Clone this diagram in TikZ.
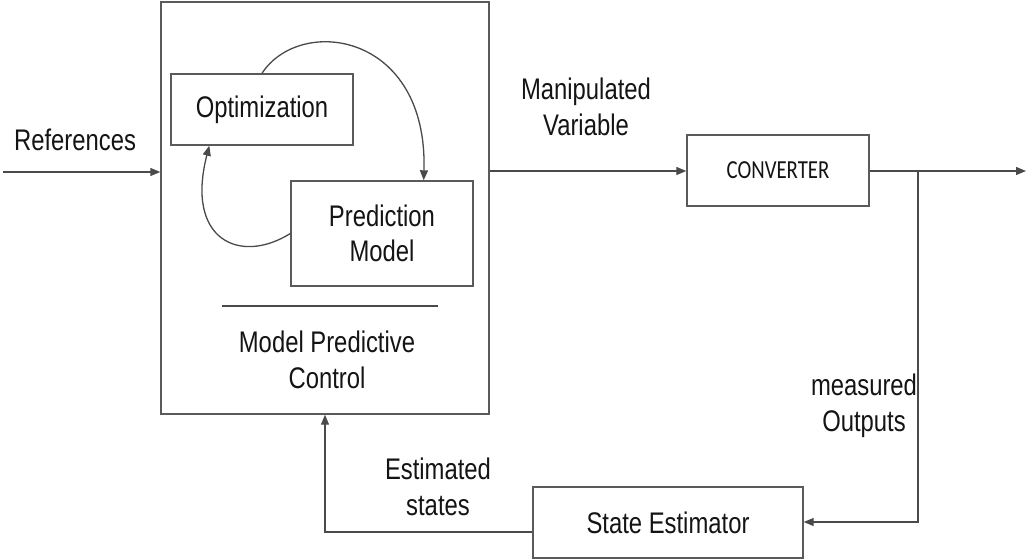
\documentclass[tikz,border=0pt]{standalone}
\usepackage{fontspec}
\setmainfont{Liberation Sans}[FakeStretch=0.8]
\newfontfamily\convfont{Carlito}[FakeStretch=0.8]
\usetikzlibrary{arrows.meta}
\definecolor{linegray}{HTML}{4A4A4A}
\definecolor{boxgray}{HTML}{5A5A5A}
\definecolor{inkgray}{HTML}{141414}
\tikzset{
  blockbox/.style={draw=boxgray, line width=1.4pt, fill=white, inner sep=0pt, text=inkgray},
  wire/.style={draw=linegray, line width=1.3pt},
  arrowwire/.style={wire, -{Triangle[length=10pt,width=8pt]}},
  lbl/.style={text=inkgray, align=center, inner sep=0pt, font=\fontsize{29.8}{35.5}\selectfont},
}
\begin{document}
\begin{tikzpicture}[x=1pt, y=-1pt]
\useasboundingbox (0,0) rectangle (1029,560);

% controller block and its inner parts
\node[blockbox, minimum width=328pt, minimum height=412pt] (mpc) at (325,208) {};
\node[blockbox, lbl, minimum width=182pt, minimum height=71pt] (opt) at (262,109.5) {Optimization};
\node[blockbox, lbl, minimum width=182pt, minimum height=105pt] (pred) at (382,233.5) {Prediction\\Model};
\coordinate (sepL) at (222,306);
\coordinate (sepR) at (438,306);
\draw[wire] (sepL) -- (sepR);
\node[lbl] (mpctitle) at (327,360) {Model Predictive\\Control};

% inner loop between optimizer and model
\draw[arrowwire] (opt.north) .. controls (300,15) and (428,32) .. ([xshift=-50pt]pred.north east);
\draw[arrowwire] (pred.west) .. controls (240,265) and (185,240) .. ([xshift=39pt]opt.south west);

% plant side
\node[blockbox, minimum width=182pt, minimum height=71pt, font=\convfont\fontsize{26}{30}\selectfont] (conv) at (778,170.5) {CONVERTER};
\node[blockbox, lbl, minimum width=270pt, minimum height=71pt] (est) at (668,522.5) {State Estimator};

% signals
\coordinate (refin) at (3,172);
\coordinate (yout) at (1026,171);
\coordinate (tap) at (918,171);
\coordinate (tapdown) at (918,522);
\coordinate (estcorner) at (325,532);

\draw[arrowwire] (refin) -- (mpc.west |- refin);
\draw[arrowwire] (mpc.east |- tap) -- (conv.west |- tap);
\draw[arrowwire] (conv.east |- tap) -- (yout);
\draw[arrowwire] (tap) -- (tapdown) -- (est.east |- tapdown);
\draw[arrowwire] (est.west |- estcorner) -- (estcorner) -- (mpc.south -| estcorner);

% labels
\node[lbl] (reflbl) at (75,140) {References};
\node[lbl] (mvlbl) at (586,107) {Manipulated\\Variable};
\node[lbl] (ylbl) at (864,406) {measured\\Outputs};
\node[lbl] (xlbl) at (438,487) {Estimated\\states};
\end{tikzpicture}
\end{document}
